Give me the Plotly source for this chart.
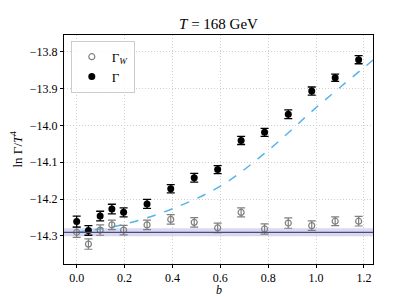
import plotly.graph_objects as go

# --- data ---
b_vals = [0.0, 0.049, 0.098, 0.147, 0.196, 0.294, 0.393, 0.491, 0.589,
          0.687, 0.785, 0.884, 0.982, 1.080, 1.178]
gamma = [-14.261, -14.285, -14.246, -14.227, -14.236, -14.213, -14.172,
         -14.142, -14.120, -14.041, -14.019, -13.970, -13.907, -13.871, -13.822]
gamma_err = [0.015, 0.013, 0.013, 0.013, 0.012, 0.012, 0.011, 0.012, 0.011,
             0.011, 0.011, 0.012, 0.011, 0.010, 0.011]
gamma_w = [-14.290, -14.322, -14.284, -14.270, -14.284, -14.270, -14.255,
           -14.263, -14.278, -14.236, -14.281, -14.265, -14.272, -14.260, -14.260]
gamma_w_err = [0.014, 0.014, 0.014, 0.013, 0.013, 0.013, 0.013, 0.013, 0.013,
               0.012, 0.014, 0.014, 0.013, 0.012, 0.013]

fit_b = [0.0, 0.2, 0.4, 0.6, 0.8, 1.0, 1.24]
fit_y = [-14.290, -14.268, -14.226, -14.165, -14.068, -13.952, -13.822]

line_val = -14.290
band_half = 0.011

x_ticks = [0.0, 0.2, 0.4, 0.6, 0.8, 1.0, 1.2]
x_labels = ["0.0", "0.2", "0.4", "0.6", "0.8", "1.0", "1.2"]
y_ticks = [-13.8, -13.9, -14.0, -14.1, -14.2, -14.3]
y_labels = ["\u221213.8", "\u221213.9", "\u221214.0", "\u221214.1", "\u221214.2", "\u221214.3"]

FONT = "Liberation Serif"

# page body has an 8px default margin; compensate so the plot lands where the reference has it
W, H = 407, 289
ML, MR, MT, MB = 56, 42, 27, 33

fig = go.Figure()

fig.add_shape(type="rect", xref="x domain", yref="y", x0=0, x1=1,
              y0=line_val - band_half, y1=line_val + band_half,
              fillcolor="rgba(140,140,210,0.33)", line_width=0, layer="below")
fig.add_shape(type="line", xref="x domain", yref="y", x0=0, x1=1,
              y0=line_val, y1=line_val, line=dict(color="#4a4a80", width=1.3))

fig.add_trace(go.Scatter(
    x=fit_b, y=fit_y, mode="lines", line=dict(color="#55b4e9", width=1.5, dash="dash",
                                              shape="spline"),
    showlegend=False, hoverinfo="skip"))

fig.add_trace(go.Scatter(
    x=b_vals, y=gamma_w, mode="markers", name="Γ<sub><i>W</i></sub>",
    marker=dict(symbol="circle-open", size=6, color="#808080", line=dict(width=1.2)),
    error_y=dict(type="data", array=gamma_w_err, color="#808080", thickness=1.2, width=4)))

fig.add_trace(go.Scatter(
    x=b_vals, y=gamma, mode="markers", name="Γ",
    marker=dict(symbol="circle", size=7, color="black"),
    error_y=dict(type="data", array=gamma_err, color="black", thickness=1.3, width=4)))

axis_common = dict(
    showline=True, linecolor="black", linewidth=1, mirror=True,
    ticks="outside", ticklen=3, tickcolor="black",
    showgrid=True, gridcolor="#cfcfcf", griddash="1px,2px", gridwidth=1,
    zeroline=False, automargin=False,
    tickfont=dict(family=FONT, size=12, color="black"),
)

fig.update_layout(
    width=W, height=H,
    margin=dict(l=ML, r=MR, t=MT, b=MB),
    paper_bgcolor="white", plot_bgcolor="white",
    font=dict(family=FONT, color="black"),
    title=dict(text="<i>T</i> = 168 GeV", x=0.5, xanchor="center", xref="paper",
               y=1 - 16 / H, yanchor="middle", font=dict(family=FONT, size=15)),
    legend=dict(x=0.022, y=0.975, xanchor="left", yanchor="top",
                bgcolor="rgba(255,255,255,0.8)", bordercolor="#cccccc", borderwidth=1,
                font=dict(family=FONT, size=13), itemwidth=30, tracegroupgap=0),
    xaxis=dict(range=[-0.053, 1.238], tickvals=x_ticks, ticktext=x_labels, **axis_common),
    yaxis=dict(range=[-14.376, -13.755], tickvals=y_ticks, ticktext=y_labels, **axis_common),
)

# axis titles placed as annotations at the reference positions
fig.add_annotation(text="<i>b</i>", xref="paper", yref="paper", x=0.5, y=0,
                   yshift=-26, yanchor="middle", showarrow=False,
                   font=dict(family=FONT, size=12, color="black"))
fig.add_annotation(text="ln Γ/<i>T</i><sup>4</sup>", xref="paper", yref="paper", x=0, y=0.5,
                   xshift=-(ML - 8), xanchor="center", textangle=-90, showarrow=False,
                   font=dict(family=FONT, size=13, color="black"))

fig.write_html("out.html")
